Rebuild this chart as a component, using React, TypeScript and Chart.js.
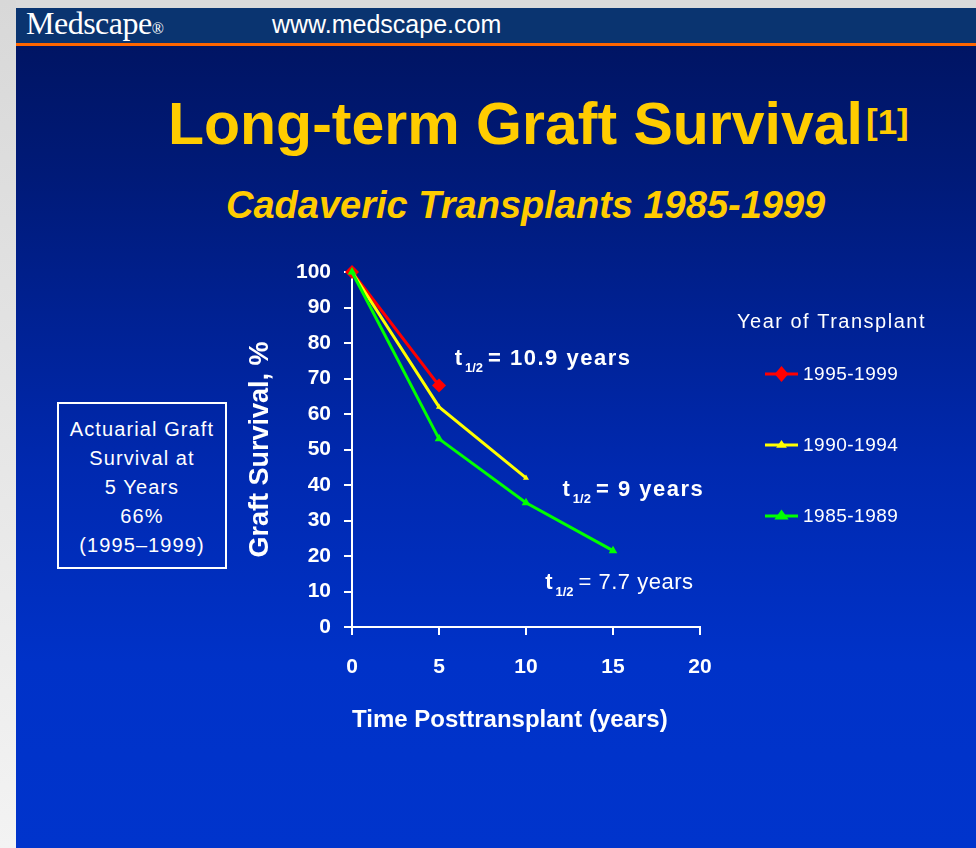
import React, { useEffect, useRef } from "react";
import { Chart, registerables } from "chart.js";

Chart.register(...registerables);

// ---------------- data ----------------
const yearsPosttransplant = [0, 5, 10, 15];
const survival1995to1999 = [100, 68];
const survival1990to1994 = [100, 62, 42];
const survival1985to1989 = [100, 53, 35, 21.5];
const seriesLabels = ["1995-1999", "1990-1994", "1985-1989"];
const seriesColors = ["#ff0000", "#ffff00", "#00ff00"];
const seriesMarkers = ["rectRot", "triangle", "triangle"];
const seriesMarkerSizes = [7, 3.5, 5];
const seriesDrawOrder = [2, 1, 0];
const xAxisTitle = "Time Posttransplant (years)";
const yAxisTitle = "Graft Survival, %";
const legendTitle = "Year of Transplant";
const halfLifeSub = "1/2";
const halfLifeTexts = ["= 10.9 years", "= 9 years", "= 7.7 years"];
const halfLifeX = [5.9, 12.1, 11.1];
const halfLifeY = [76.1, 39.2, 13.0];
const halfLifeBold = [true, true, false];
const boxLines = ["Actuarial Graft", "Survival at", "5 Years", "66%", "(1995\u20131999)"];

const FONT = '"Liberation Sans", Arial, Helvetica, sans-serif';
const SERIF = '"Liberation Serif", "Times New Roman", serif';

function toPoints(values: number[]) {
  return values.map((v, i) => ({ x: yearsPosttransplant[i], y: v }));
}

function drawMarker(ctx: CanvasRenderingContext2D, style: string, r: number, x: number, y: number, color: string) {
  ctx.save();
  ctx.fillStyle = color;
  ctx.beginPath();
  if (style === "rectRot") {
    ctx.moveTo(x, y - r);
    ctx.lineTo(x + r * 0.85, y);
    ctx.lineTo(x, y + r);
    ctx.lineTo(x - r * 0.85, y);
  } else {
    ctx.moveTo(x, y - r * 1.1);
    ctx.lineTo(x + r * 1.2, y + r * 0.6);
    ctx.lineTo(x - r * 1.2, y + r * 0.6);
  }
  ctx.closePath();
  ctx.fill();
  ctx.restore();
}

const halfLifePlugin = {
  id: "halfLifeNotes",
  afterDatasetsDraw(chart: any) {
    const { ctx } = chart;
    const xs = chart.scales.x;
    const ys = chart.scales.y;
    ctx.save();
    ctx.fillStyle = "#ffffff";
    ctx.textAlign = "left";
    ctx.textBaseline = "alphabetic";
    halfLifeTexts.forEach((txt, i) => {
      let px = xs.getPixelForValue(halfLifeX[i]);
      const py = ys.getPixelForValue(halfLifeY[i]) + 8;
      ctx.letterSpacing = "0px";
      ctx.font = `bold 22px ${FONT}`;
      ctx.fillText("t", px, py);
      px += ctx.measureText("t").width + 3;
      ctx.font = `bold 13px ${FONT}`;
      ctx.fillText(halfLifeSub, px, py + 7);
      px += ctx.measureText(halfLifeSub).width + 5;
      ctx.font = `${halfLifeBold[i] ? "bold " : ""}22px ${FONT}`;
      ctx.letterSpacing = halfLifeBold[i] ? "1.5px" : "0.5px";
      ctx.fillText(txt, px, py);
    });
    ctx.restore();
  },
};

const sideLegendPlugin = {
  id: "sideLegend",
  afterDraw(chart: any) {
    const { ctx } = chart;
    const area = chart.chartArea;
    const titleX = area.right + 37;
    const titleY = area.top + 50;
    const lineX0 = area.right + 65;
    const lineX1 = area.right + 98;
    const textX = area.right + 103;
    const firstY = area.top + 102;
    const rowGap = 71;
    ctx.save();
    ctx.fillStyle = "#ffffff";
    ctx.textAlign = "left";
    ctx.textBaseline = "middle";
    ctx.font = `20px ${FONT}`;
    ctx.letterSpacing = "1.5px";
    ctx.fillText(legendTitle, titleX, titleY);
    chart.data.datasets.forEach((ds: any, i: number) => {
      const yy = firstY + i * rowGap;
      ctx.strokeStyle = ds.borderColor;
      ctx.lineWidth = 3;
      ctx.beginPath();
      ctx.moveTo(lineX0, yy);
      ctx.lineTo(lineX1, yy);
      ctx.stroke();
      drawMarker(ctx, ds.pointStyle, ds.pointRadius + 1, (lineX0 + lineX1) / 2, yy, ds.borderColor);
      ctx.fillStyle = "#ffffff";
      ctx.font = `19px ${FONT}`;
      ctx.letterSpacing = "0.5px";
      ctx.fillText(ds.label, textX, yy + 1);
    });
    ctx.restore();
  },
};

export default function App() {
  const canvasRef = useRef<HTMLCanvasElement>(null);

  useEffect(() => {
    const seriesValues = [survival1995to1999, survival1990to1994, survival1985to1989];
    const chart = new Chart(canvasRef.current as HTMLCanvasElement, {
      type: "line",
      data: {
        datasets: seriesValues.map((vals, i) => ({
          label: seriesLabels[i],
          data: toPoints(vals),
          borderColor: seriesColors[i],
          backgroundColor: seriesColors[i],
          borderWidth: 3,
          pointStyle: seriesMarkers[i] as any,
          pointRadius: seriesMarkerSizes[i],
          pointBorderWidth: 0,
          tension: 0,
          order: seriesDrawOrder[i],
          clip: false as any,
        })),
      },
      options: {
        responsive: false,
        animation: false,
        events: [],
        layout: { padding: { left: 236, right: 276, top: 272, bottom: 101 } },
        plugins: {
          legend: { display: false },
          tooltip: { enabled: false },
        },
        scales: {
          x: {
            type: "linear",
            min: 0,
            max: 20,
            afterFit: (s: any) => {
              s.height = 120;
            },
            ticks: {
              stepSize: 5,
              color: "#ffffff",
              padding: 20,
              font: { family: FONT, size: 21, weight: "bold" },
            },
            grid: {
              display: true,
              drawOnChartArea: false,
              drawTicks: true,
              tickLength: 8,
              color: "#ffffff",
              lineWidth: 2,
            },
            border: { display: true, color: "#ffffff", width: 2 },
            title: {
              display: true,
              text: xAxisTitle,
              align: "start",
              color: "#ffffff",
              font: { family: FONT, size: 24, weight: "bold" },
              padding: { top: 0, bottom: 12 },
            },
          },
          y: {
            type: "linear",
            min: 0,
            max: 100,
            afterFit: (s: any) => {
              s.width = 116;
            },
            ticks: {
              stepSize: 10,
              color: "#ffffff",
              padding: 13,
              font: { family: FONT, size: 21, weight: "bold" },
            },
            grid: {
              display: true,
              drawOnChartArea: false,
              drawTicks: true,
              tickLength: 8,
              color: "#ffffff",
              lineWidth: 2,
            },
            border: { display: true, color: "#ffffff", width: 2 },
            title: {
              display: true,
              text: yAxisTitle,
              color: "#ffffff",
              font: { family: FONT, size: 27, weight: "bold" },
              padding: { top: 8, bottom: 0 },
            },
          },
        },
      } as any,
      plugins: [halfLifePlugin, sideLegendPlugin],
    });
    return () => chart.destroy();
  }, []);

  const abs = (s: React.CSSProperties): React.CSSProperties => ({
    position: "absolute",
    margin: 0,
    whiteSpace: "nowrap",
    lineHeight: 1,
    ...s,
  });

  return (
    <div
      style={{
        position: "fixed",
        left: 0,
        top: 0,
        width: 976,
        height: 848,
        overflow: "hidden",
        background: "#dadada",
      }}
    >
      <div style={abs({ left: 0, top: 0, width: 16, height: 848, background: "linear-gradient(#d8d8d8, #f3f3f3)" })} />
      <div
        style={abs({
          left: 16,
          top: 8,
          width: 960,
          height: 840,
          background: "linear-gradient(to bottom, #00135e 0%, #001a78 20%, #0029b0 55%, #0032c8 78%, #0034cc 100%)",
        })}
      />
      <div style={abs({ left: 16, top: 8, width: 960, height: 35, background: "#0a3470" })} />
      <div style={abs({ left: 16, top: 43, width: 960, height: 3, background: "#ff6600" })} />
      <div style={abs({ left: 26, top: 7, fontFamily: SERIF, fontSize: 32, color: "#ffffff", letterSpacing: "-0.5px" })}>
        Medscape<span style={{ fontSize: 16 }}>®</span>
      </div>
      <div style={abs({ left: 272, top: 12, fontFamily: FONT, fontSize: 25, color: "#ffffff" })}>www.medscape.com</div>

      <div style={abs({ left: 168, top: 95, fontFamily: FONT, fontSize: 59, fontWeight: "bold", color: "#ffcc00" })}>
        Long-term Graft Survival
      </div>
      <div style={abs({ left: 866, top: 104, fontFamily: FONT, fontSize: 35, fontWeight: "bold", color: "#ffcc00" })}>[1]</div>
      <div
        style={abs({
          left: 226,
          top: 186,
          fontFamily: FONT,
          fontSize: 38,
          fontWeight: "bold",
          fontStyle: "italic",
          color: "#ffcc00",
        })}
      >
        Cadaveric Transplants 1985-1999
      </div>

      <div
        style={abs({
          left: 57,
          top: 402,
          width: 170,
          height: 167,
          boxSizing: "border-box",
          border: "2px solid #ffffff",
          paddingTop: 11,
          textAlign: "center",
          fontFamily: FONT,
          fontSize: 20,
          lineHeight: "29px",
          letterSpacing: "1.1px",
          color: "#ffffff",
        })}
      >
        {boxLines.map((l, i) => (
          <div key={i}>{l}</div>
        ))}
      </div>

      <canvas ref={canvasRef} width={976} height={848} style={{ position: "absolute", left: 0, top: 0 }} />
    </div>
  );
}
